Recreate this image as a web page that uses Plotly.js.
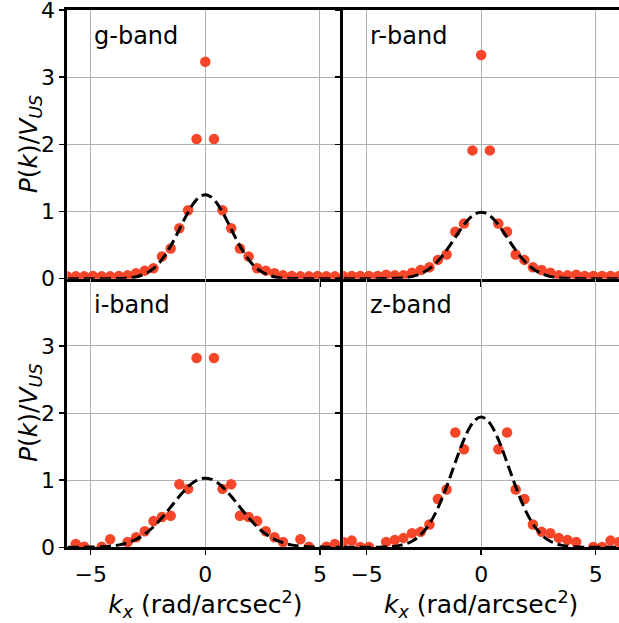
<!DOCTYPE html>
<html>
<head>
<meta charset="utf-8">
<script src="https://cdn.plot.ly/plotly-3.0.1.min.js"></script>
<style>html,body{margin:0;padding:0;background:#fff;}#plot{width:619px;height:623px;}</style>
</head>
<body>
<div id="plot"></div>
<script>
// measured power spectrum points (kx grid)
const kx = [-6.03,-5.65,-5.28,-4.90,-4.52,-4.15,-3.77,-3.39,-3.02,-2.64,-2.26,-1.89,-1.51,-1.13,-0.75,-0.38,0,0.38,0.75,1.13,1.51,1.89,2.26,2.64,3.02,3.39,3.77,4.15,4.52,4.90,5.28,5.65,6.03];
const gP = [0.035,0.035,0.035,0.04,0.035,0.035,0.04,0.05,0.08,0.12,0.155,0.33,0.45,0.75,1.02,2.08,3.23,2.08,1.02,0.75,0.45,0.33,0.155,0.12,0.08,0.05,0.04,0.035,0.035,0.04,0.035,0.035,0.035];
const rP = [0.04,0.04,0.04,0.04,0.04,0.06,0.05,0.05,0.09,0.13,0.17,0.28,0.36,0.70,0.82,1.91,3.33,1.91,0.82,0.70,0.36,0.28,0.17,0.13,0.09,0.05,0.05,0.06,0.04,0.04,0.04,0.04,0.04];
const iP = [null,0.05,0.01,null,0.01,0.12,null,0.08,0.15,0.24,0.39,0.45,0.47,0.94,0.87,2.82,null,2.82,0.87,0.94,0.47,0.45,0.39,0.24,0.15,0.08,null,0.12,0.01,null,0.01,0.05,null];
const zP = [0.08,0.10,0.005,0.005,null,0.08,0.11,0.14,0.21,0.23,0.34,0.72,0.86,1.71,1.46,null,null,null,1.46,1.71,0.86,0.72,0.34,0.23,0.21,0.14,0.11,0.08,null,0.005,0.005,0.10,0.08];

// model curves (dashed)
const km = [-6,-5.5,-5,-4.5,-4,-3.75,-3.5,-3.25,-3,-2.75,-2.5,-2.25,-2,-1.75,-1.5,-1.25,-1,-0.75,-0.5,-0.25,0,0.25,0.5,0.75,1,1.25,1.5,1.75,2,2.25,2.5,2.75,3,3.25,3.5,3.75,4,4.5,5,5.5,6];
const gM = [0,0,0,0,0.002,0.004,0.008,0.016,0.030,0.055,0.095,0.154,0.239,0.353,0.493,0.655,0.827,0.991,1.127,1.218,1.25,1.218,1.127,0.991,0.827,0.655,0.493,0.353,0.239,0.154,0.095,0.055,0.030,0.016,0.008,0.004,0.002,0,0,0,0];
const rM = [0,0,0,0.001,0.003,0.005,0.010,0.020,0.035,0.060,0.097,0.151,0.224,0.317,0.429,0.554,0.683,0.803,0.902,0.967,0.99,0.967,0.902,0.803,0.683,0.554,0.429,0.317,0.224,0.151,0.097,0.060,0.035,0.020,0.010,0.005,0.003,0.001,0,0,0];
const iM = [0,0.001,0.003,0.008,0.023,0.036,0.056,0.084,0.121,0.171,0.233,0.309,0.398,0.497,0.603,0.710,0.812,0.901,0.971,1.015,1.03,1.015,0.971,0.901,0.812,0.710,0.603,0.497,0.398,0.309,0.233,0.171,0.121,0.084,0.056,0.036,0.023,0.008,0.003,0.001,0];
const zM = [0,0,0,0.002,0.009,0.017,0.032,0.056,0.094,0.153,0.238,0.354,0.506,0.694,0.911,1.148,1.387,1.606,1.784,1.900,1.94,1.900,1.784,1.606,1.387,1.148,0.911,0.694,0.506,0.354,0.238,0.153,0.094,0.056,0.032,0.017,0.009,0.002,0,0,0];

const bands = ['g-band','r-band','i-band','z-band'];
const pts = [gP, rP, iP, zP];
const models = [gM, rM, iM, zM];
const xTicks = [-5, 0, 5];
const yTicksTop = [0, 1, 2, 3, 4];
const yTicksBottom = [0, 1, 2, 3];
const xLabel = '<i>k</i><sub><i>x</i></sub> (rad/arcsec<sup>2</sup>)';
const yLabel = '<i>P</i>(<i>k</i>)/<i>V</i><sub><i>US</i></sub>';

const FONT = 'DejaVu Sans, sans-serif';
const RED = '#f5462a';
const W = 619, H = 623;
const xDom = [[67.3/W, 343.3/W],[343.3/W, 1]];
const yDom = [[(H-278.7)/H, (H-10)/H],[(H-547.3)/H, (H-278.7)/H]];

const traces = [];
for (let p = 0; p < 4; p++) {
  const sfx = p === 0 ? '' : String(p+1);
  traces.push({x: kx, y: pts[p], xaxis: 'x'+sfx, yaxis: 'y'+sfx, type: 'scatter', mode: 'markers',
    marker: {color: RED, size: 10.5, line: {width: 0}}, showlegend: false, hoverinfo: 'skip'});
  traces.push({x: km, y: models[p], xaxis: 'x'+sfx, yaxis: 'y'+sfx, type: 'scatter', mode: 'lines',
    line: {color: '#000', width: 3, dash: '11px,5px', shape: 'spline'}, showlegend: false, hoverinfo: 'skip'});
}

const layout = {
  width: W, height: H,
  margin: {l: 0, r: 0, t: 0, b: 0},
  paper_bgcolor: '#fff', plot_bgcolor: '#fff',
  font: {family: FONT, size: 22, color: '#000'},
  showlegend: false,
  annotations: []
};
const xTitle = {text: xLabel, font: {family: FONT, size: 25, color: '#000'}, standoff: 4};

for (let p = 0; p < 4; p++) {
  const sfx = p === 0 ? '' : String(p+1);
  const col = p % 2, row = Math.floor(p / 2);
  const xa = {
    domain: xDom[col], range: [-6.02, 6.02], tickvals: xTicks, ticktext: xTicks.map(v => v < 0 ? '\u2212' + Math.abs(v) : String(v)),
    ticks: 'outside', ticklen: 5, tickwidth: 1.5, tickcolor: '#000',
    showline: true, linecolor: '#000', linewidth: 3, mirror: row === 0,
    showgrid: true, gridcolor: '#b0b0b0', gridwidth: 1, zeroline: false,
    anchor: 'y' + sfx, showticklabels: row === 1, ticklabeloverflow: 'allow',
    tickfont: {family: FONT, size: 22, color: '#000'}
  };
  if (row === 1) xa.title = xTitle;
  const ya = {
    domain: yDom[row], range: [0, 4], tickvals: row === 0 ? yTicksTop : yTicksBottom,
    ticks: 'outside', ticklen: 5, tickwidth: 1.5, tickcolor: '#000',
    showline: true, linecolor: '#000', linewidth: 3, mirror: false,
    showgrid: true, gridcolor: '#b0b0b0', gridwidth: 1, zeroline: false,
    anchor: 'x' + sfx, showticklabels: col === 0, ticklabeloverflow: 'allow',
    tickfont: {family: FONT, size: 22, color: '#000'}
  };
  layout['xaxis' + sfx] = xa;
  layout['yaxis' + sfx] = ya;
  layout.annotations.push({
    text: bands[p], xref: 'x' + sfx + ' domain', yref: 'y' + sfx + ' domain',
    x: 0.088, y: 0.903, xanchor: 'left', yanchor: 'middle', showarrow: false,
    font: {family: FONT, size: 24, color: '#000'}
  });
  if (col === 0) {
    layout.annotations.push({
      text: yLabel, xref: 'paper', yref: 'y' + sfx + ' domain',
      x: 30/W, y: 0.5, xanchor: 'center', yanchor: 'middle', textangle: -90, showarrow: false,
      font: {family: FONT, size: 25, color: '#000'}
    });
  }
}

Plotly.newPlot('plot', traces, layout, {staticPlot: true});
</script>
</body>
</html>
